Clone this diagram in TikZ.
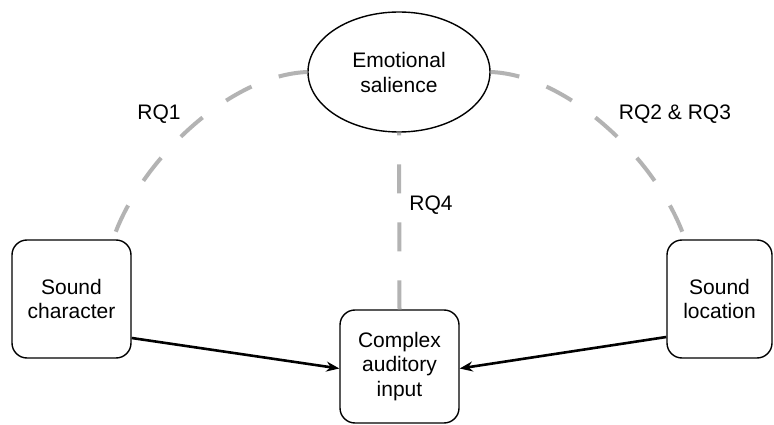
\documentclass[tikz,border=0pt]{standalone}
\usepackage{fontspec}
\setmainfont{Liberation Sans}
\usetikzlibrary{shapes.geometric,arrows.meta}
\definecolor{dashgray}{HTML}{B3B3B3}
\tikzset{
  boxnode/.style={draw=black, line width=1.4pt, rounded corners=15pt, align=center, inner sep=0pt, font=\fontsize{21}{24.5}\selectfont},
  ellnode/.style={draw=black, line width=1.4pt, ellipse, minimum width=182pt, minimum height=120pt, inner sep=0pt, align=center, font=\fontsize{21}{25}\selectfont},
  rqline/.style={draw=dashgray, line width=4pt, dash pattern=on 29pt off 29pt},
  arr/.style={draw=black, line width=2.6pt, -{Stealth[length=13pt,width=10pt]}},
  lbl/.style={font=\fontsize{21}{25}\selectfont, inner sep=0pt}
}
\begin{document}
\begin{tikzpicture}[x=1pt,y=-1pt]
\useasboundingbox[fill=white] (0,0) rectangle (774,425);
\node[ellnode] (e) at (399,72) {Emotional\\salience};
\node[boxnode, minimum width=119pt, minimum height=118pt] (sc) at (71.5,299) {Sound\\character};
\node[boxnode, minimum width=105pt, minimum height=118pt] (sl) at (719.5,299) {Sound\\location};
\node[boxnode, minimum width=119pt, minimum height=113pt] (ca) at (399.5,366.5) {Complex\\auditory\\input};
\draw[rqline] (e.west) .. controls (230,75) and (140,160) .. ([xshift=41.5pt]sc.north);
\draw[rqline] (e.east) .. controls (568,75) and (658,160) .. ([xshift=-34.5pt]sl.north);
\draw[rqline] (ca.north) -- (e.south);
\draw[arr] ([yshift=-39pt]sc.east) -- ([yshift=-2pt]ca.west);
\draw[arr] ([yshift=-38pt]sl.west) -- ([yshift=-2pt]ca.east);
\node[lbl] (rq1) at (159,114) {RQ1};
\node[lbl] (rq23) at (675,114) {RQ2 \& RQ3};
\node[lbl] (rq4) at (431,205) {RQ4};
\end{tikzpicture}
\end{document}
